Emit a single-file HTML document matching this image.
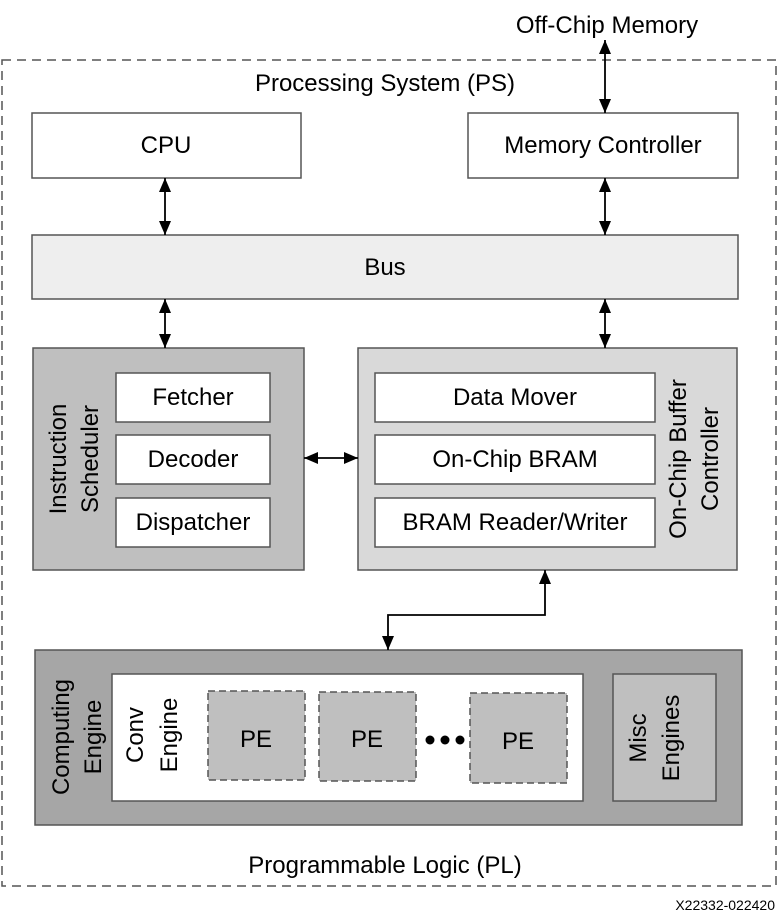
<!DOCTYPE html>
<html><head><style>body{margin:0;background:#fff}svg{display:block}text{font-family:"Liberation Sans",sans-serif;fill:#000}</style></head><body>
<svg width="781" height="922" viewBox="0 0 781 922" xmlns="http://www.w3.org/2000/svg">
<defs>
<marker id="a" viewBox="0 0 10 10" refX="10" refY="5" markerWidth="14" markerHeight="12" markerUnits="userSpaceOnUse" orient="auto-start-reverse" preserveAspectRatio="none"><path d="M0,0L10,5L0,10z" fill="#000"/></marker>
</defs>
<rect x="2" y="60" width="774" height="826" fill="none" stroke="#555" stroke-width="1.5" stroke-dasharray="9,6"/>
<text x="607" y="33" font-size="24" text-anchor="middle">Off-Chip Memory</text>
<text x="385" y="91" font-size="24" text-anchor="middle">Processing System (PS)</text>
<g stroke="#555" stroke-width="1.5">
<rect x="32" y="113" width="269" height="65" fill="#fff"/>
<rect x="468" y="113" width="270" height="65" fill="#fff"/>
<rect x="32" y="235" width="706" height="64" fill="#eeeeee"/>
<rect x="33" y="348" width="271" height="222" fill="#bfbfbf"/>
<rect x="116" y="373" width="154" height="49" fill="#fff"/>
<rect x="116" y="435" width="154" height="49" fill="#fff"/>
<rect x="116" y="498" width="154" height="49" fill="#fff"/>
<rect x="358" y="348" width="379" height="222" fill="#d9d9d9"/>
<rect x="375" y="373" width="280" height="49" fill="#fff"/>
<rect x="375" y="435" width="280" height="49" fill="#fff"/>
<rect x="375" y="498" width="280" height="49" fill="#fff"/>
<rect x="35" y="650" width="707" height="175" fill="#a6a6a6"/>
<rect x="112" y="674" width="471" height="127" fill="#fff"/>
<rect x="613" y="674" width="103" height="127" fill="#bfbfbf"/>
</g>
<g stroke="#555" stroke-width="1.5" stroke-dasharray="7,4" fill="#bfbfbf">
<rect x="208" y="691" width="97" height="89"/>
<rect x="319" y="692" width="97" height="89"/>
<rect x="470" y="693" width="97" height="90"/>
</g>
<g stroke="#000" stroke-width="1.8" fill="none" marker-start="url(#a)" marker-end="url(#a)">
<line x1="605" y1="40" x2="605" y2="113"/>
<line x1="165" y1="178" x2="165" y2="235"/>
<line x1="605" y1="178" x2="605" y2="235"/>
<line x1="165" y1="299" x2="165" y2="348"/>
<line x1="605" y1="299" x2="605" y2="348"/>
<line x1="304" y1="458" x2="358" y2="458"/>
<polyline points="545,570 545,615 388,615 388,650"/>
</g>
<g font-size="24" text-anchor="middle">
<text x="166" y="153">CPU</text>
<text x="603" y="153">Memory Controller</text>
<text x="385" y="275">Bus</text>
<text x="193" y="405">Fetcher</text>
<text x="193" y="467">Decoder</text>
<text x="193" y="530">Dispatcher</text>
<text x="515" y="405">Data Mover</text>
<text x="515" y="467">On-Chip BRAM</text>
<text x="515" y="530">BRAM Reader/Writer</text>
<text x="256" y="747">PE</text>
<text x="367" y="747">PE</text>
<text x="518" y="749">PE</text>
<text x="385" y="873">Programmable Logic (PL)</text>
<text transform="translate(66,459) rotate(-90)">Instruction</text>
<text transform="translate(98,459) rotate(-90)">Scheduler</text>
<text transform="translate(686,459) rotate(-90)">On-Chip Buffer</text>
<text transform="translate(718,459) rotate(-90)">Controller</text>
<text transform="translate(69,737) rotate(-90)">Computing</text>
<text transform="translate(101,737) rotate(-90)">Engine</text>
<text transform="translate(143,735) rotate(-90)">Conv</text>
<text transform="translate(177,735) rotate(-90)">Engine</text>
<text transform="translate(646,738) rotate(-90)">Misc</text>
<text transform="translate(679,738) rotate(-90)">Engines</text>
</g>
<g fill="#000"><circle cx="430" cy="740" r="4.5"/><circle cx="445" cy="740" r="4.5"/><circle cx="460" cy="740" r="4.5"/></g>
<text x="775" y="910" font-size="14" text-anchor="end">X22332-022420</text>
</svg>
</body></html>
